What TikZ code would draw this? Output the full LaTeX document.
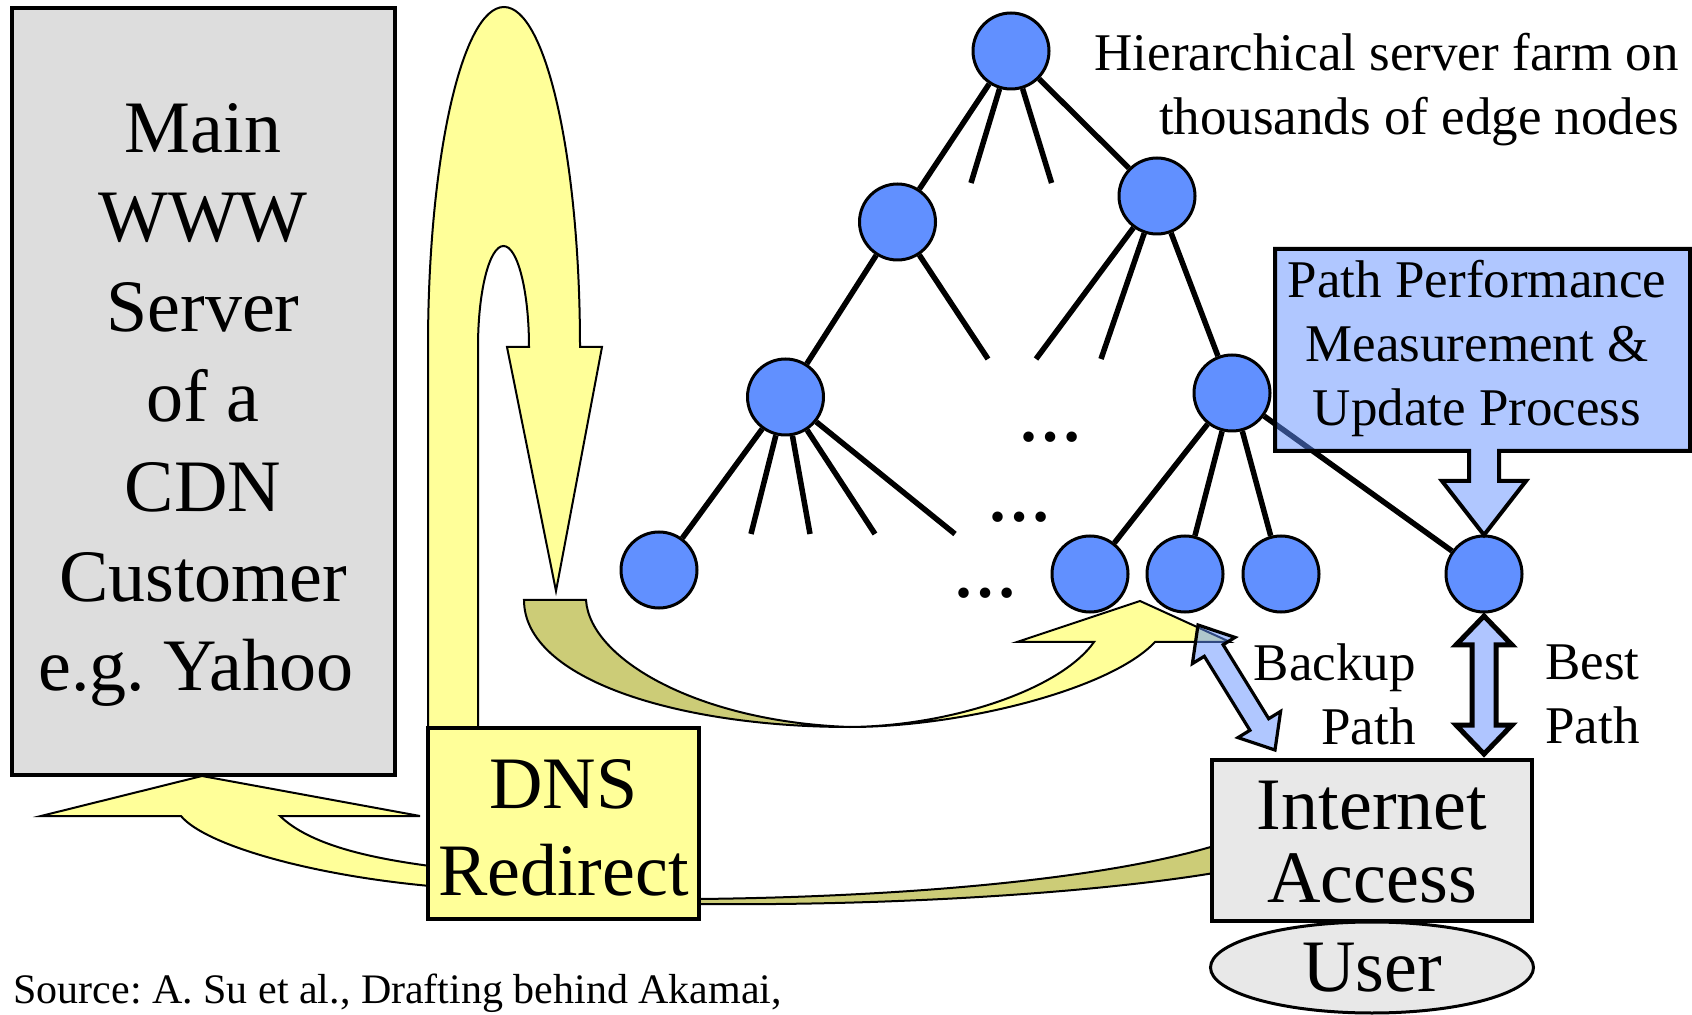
\documentclass[tikz,border=0pt]{standalone}
\usepackage{fontspec}
\setmainfont{Liberation Serif}
\usetikzlibrary{shapes.geometric}
\definecolor{gmain}{HTML}{DDDDDD}
\definecolor{ginet}{HTML}{E8E8E8}
\definecolor{yel}{HTML}{FFFF99}
\definecolor{oliv}{HTML}{CCCC77}
\definecolor{nblue}{HTML}{6190FF}
\definecolor{lblue}{HTML}{AFC5FF}
\frenchspacing
\begin{document}
\begin{tikzpicture}[x=0.5pt,y=-0.5pt,
  srv/.style={circle,draw=black,line width=1.5pt,fill=nblue,minimum size=38pt,inner sep=0pt},
  tlink/.style={line width=2.75pt},
  boxed/.style={rectangle,draw=black,line width=2pt,inner sep=0pt},
  yarrow/.style={draw=black,line width=1pt,fill=yel,line join=miter},
  oarrow/.style={draw=black,line width=1pt,fill=oliv},
  barrow/.style={draw=black,line width=1.6pt,fill=nblue,fill opacity=0.5},
  txt/.style={inner sep=0pt},
  dots/.style={inner sep=0pt,anchor=base,font=\fontsize{32}{38}\selectfont\bfseries}]
\path[use as bounding box] (0,0) rectangle (1692,1015);

% ---- tree nodes
\node[srv] (root) at (1011,51) {};
\node[srv] (l2a) at (897.5,222) {};
\node[srv] (l2b) at (1157,196) {};
\node[srv] (l3a) at (785.5,397) {};
\node[srv] (l3b) at (1232,393) {};
\node[srv] (lf1) at (659,570) {};
\node[srv] (lf2) at (1090,574) {};
\node[srv] (lf3) at (1185,574) {};
\node[srv] (lf4) at (1281,574) {};
\node[srv] (lf5) at (1484,574) {};

% stub ends
\coordinate (rs1) at (971,183);
\coordinate (rs2) at (1051.6,183);
\coordinate (as1) at (988,359);
\coordinate (bs1) at (1036,359);
\coordinate (bs2) at (1101,359);
\coordinate (cs1) at (751,534);
\coordinate (cs2) at (810,534);
\coordinate (cs3) at (875,534);
\coordinate (cs4) at (955,534);

% ---- tree edges
\draw[tlink] (root) -- (l2a);
\draw[tlink] (root) -- (l2b);
\draw[tlink] (root) -- (rs1);
\draw[tlink] (root) -- (rs2);
\draw[tlink] (l2a) -- (l3a);
\draw[tlink] (l2a) -- (as1);
\draw[tlink] (l2b) -- (l3b);
\draw[tlink] (l2b) -- (bs1);
\draw[tlink] (l2b) -- (bs2);
\draw[tlink] (l3a) -- (lf1);
\draw[tlink] (l3a) -- (cs1);
\draw[tlink] (l3a) -- (cs2);
\draw[tlink] (l3a) -- (cs3);
\draw[tlink] (l3a) -- (cs4);
\draw[tlink] (l3b) -- (lf2);
\draw[tlink] (l3b) -- (lf3);
\draw[tlink] (l3b) -- (lf4);
\draw[tlink] (l3b) -- (lf5);

\node[dots] (dots1) at (1050,442) {…};
\node[dots] (dots2) at (1019,522) {…};
\node[dots] (dots3) at (985,598) {…};

% ---- U-turn arrow (DNS up and down into the farm)
\path[yarrow] (428,728) -- (428,347)
  .. controls (428,159.2) and (462,7) .. (504,7)
  .. controls (546,7) and (580,159.2) .. (580,347)
  -- (602,347) -- (556,591) -- (507,347) -- (529,347)
  .. controls (529,291.2) and (517.6,246) .. (503.5,246)
  .. controls (489.4,246) and (478,291.2) .. (478,347)
  -- (478,728) -- cycle;

% ---- curved ribbon arrow to the edge nodes
\path[oarrow] (524,600) -- (586,600)
  .. controls (590,660) and (700,722) .. (850,727)
  .. controls (680,727) and (524,680) .. (524,600) -- cycle;
\path[yarrow] (850,727) .. controls (960,727) and (1110,690) .. (1155,642)
  -- (1230,642) -- (1140,601) -- (1017,642) -- (1094,642)
  .. controls (1060,690) and (950,726) .. (850,727) -- cycle;

% ---- DNS -> main server arrow
\path[yarrow] (430,866) .. controls (370,858) and (310,845) .. (280,816)
  -- (420,816) -- (202,776) -- (41,816) -- (181,816)
  .. controls (205,845) and (310,875) .. (430,886) -- cycle;

% ---- Internet access -> DNS band
\path[oarrow] (1214,846) .. controls (1100,880) and (900,897) .. (698,899)
  -- (698,904) .. controls (900,906) and (1100,892) .. (1214,873) -- cycle;

% ---- boxes
\node[boxed,fill=gmain,minimum width=191.5pt,minimum height=383.5pt] (mainbox) at (203.5,391.5) {};
\node[boxed,fill=yel,minimum width=135.5pt,minimum height=95.5pt] (dnsbox) at (563.5,823.5) {};
\node[boxed,fill=ginet,minimum width=160pt,minimum height=80.5pt] (inetbox) at (1372,840.5) {};
\node[ellipse,draw=black,line width=1.5pt,fill=ginet,minimum width=161.5pt,minimum height=45.5pt,inner sep=0pt,
  font=\fontsize{37}{44}\selectfont] (user) at (1372,967.5) {User};

% ---- backup path double arrow
\path[barrow] (1198,625) -- (1235,637.4) -- (1223.1,644.7) -- (1268.7,718.7)
  -- (1280.6,711.4) -- (1275,750) -- (1238,737.6) -- (1249.9,730.3)
  -- (1204.3,656.3) -- (1192.4,663.6) -- cycle;

% ---- best path double arrow
\path[draw=black,line width=2.5pt,fill=lblue] (1484,616) -- (1512,645) -- (1496,645)
  -- (1496,725) -- (1512,725) -- (1484,754) -- (1456,725) -- (1472,725)
  -- (1472,645) -- (1456,645) -- cycle;

% ---- path performance callout
\path[draw=black,line width=2pt,fill=nblue,fill opacity=0.5]
  (1275,249) -- (1690,249) -- (1690,451) -- (1499,451) -- (1499,481)
  -- (1526,481) -- (1484,535) -- (1442,481) -- (1469,481) -- (1469,451)
  -- (1275,451) -- cycle;

% ---- texts
\node[txt,align=center,font=\fontsize{37}{44.9}\selectfont] (maintxt) at (203,405)
  {Main\\WWW\\Server\\of a\\CDN\\Customer\\e.g. Yahoo\hspace*{7pt}};
\node[txt,align=center,font=\fontsize{37}{43.75}\selectfont] (dnstxt) at (563.5,828)
  {DNS\\Redirect};
\node[txt,align=center,font=\fontsize{37}{36.7}\selectfont] (inettxt) at (1372,842)
  {Internet\\Access};
\node[txt,align=center,font=\fontsize{26.5}{32}\selectfont] (pptxt) at (1477,348)
  {Path Performance\\Measurement \&\\Update Process};
\node[txt,align=right,anchor=north east,font=\fontsize{26.5}{31.8}\selectfont] (farmtxt) at (1679,33)
  {Hierarchical server farm on\\thousands of edge nodes};
\node[txt,align=right,anchor=north east,font=\fontsize{26.5}{32}\selectfont] (backuptxt) at (1416,643)
  {Backup\\Path};
\node[txt,align=left,anchor=north west,font=\fontsize{26.5}{32}\selectfont] (besttxt) at (1545,644)
  {Best\\Path};
\node[txt,anchor=base west,font=\fontsize{21}{25}\selectfont] (srctxt) at (13,1003)
  {Source: A. Su et al., Drafting behind Akamai,};
\end{tikzpicture}
\end{document}
